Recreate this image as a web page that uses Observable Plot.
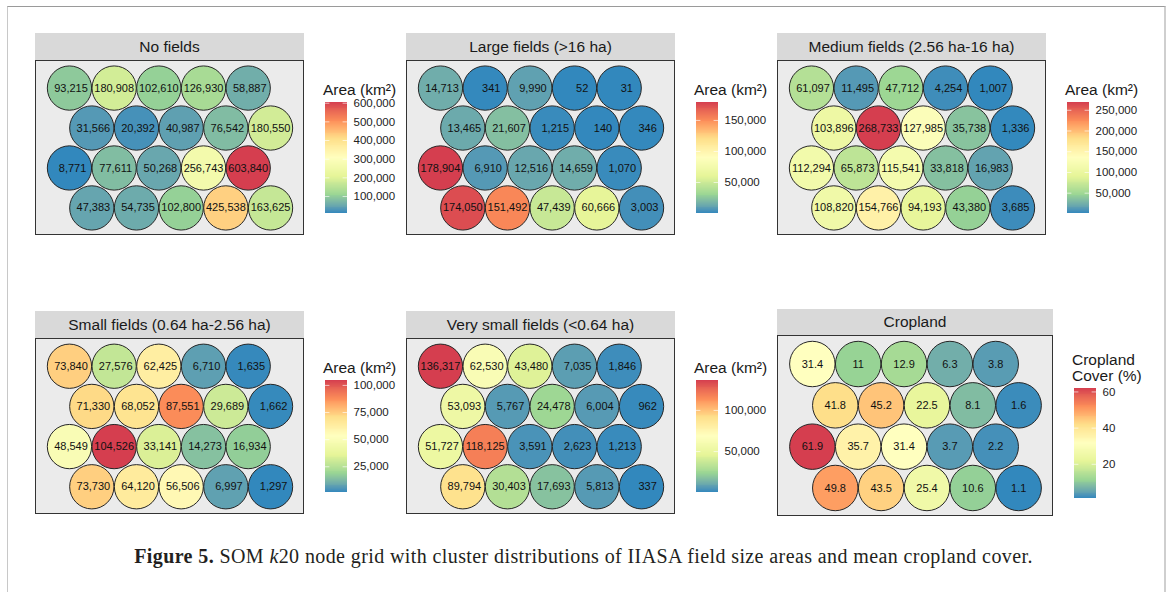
<!DOCTYPE html>
<html>
<head>
<meta charset="utf-8">
<script src="https://cdn.jsdelivr.net/npm/d3@7"></script>
<script src="https://cdn.jsdelivr.net/npm/@observablehq/plot@0.6"></script>
<style>
  body { margin: 0; background: #fff; }
  #root { position: relative; width: 1167px; height: 592px; overflow: hidden; background: #fff;
          font-family: "Liberation Sans", Arial, sans-serif; color: #1a1a1a; }
  svg text { white-space: pre; }
  .strip { position: absolute; background: #d9d9d9; display: flex; align-items: center; justify-content: center;
           font-size: 15.5px; color: #1a1a1a; }
  .body { position: absolute; }
  .border { position: absolute; left: 0; top: 0; right: 0; bottom: 0; border: 1px solid #333; box-sizing: border-box; pointer-events: none; }
  .legtitle { position: absolute; font-size: 15.5px; line-height: 16px; color: #1a1a1a; white-space: pre; }
  .leg { position: absolute; }
</style>
</head>
<body>
<div id="root">
  <div style="position:absolute;left:7px;top:6px;width:1156px;height:700px;border-top:1px solid #9a9a9a;border-left:1px solid #c8c8c8;border-right:2px solid #cfcfcf;"></div>
  <div id="caption" style="position:absolute;left:0;width:1167px;top:545px;text-align:center;font-family:'Liberation Serif','Times New Roman',serif;font-size:20px;letter-spacing:0.4px;color:#231f20;"><b>Figure 5.</b> SOM <i>k</i>20 node grid with cluster distributions of IIASA field size areas and mean cropland cover.</div>
</div>
<script>
// ---------------- data (row-major, top row first, 5 nodes per row) ----------------
const panelTitles = ["No fields", "Large fields (>16 ha)", "Medium fields (2.56 ha-16 ha)",
                     "Small fields (0.64 ha-2.56 ha)", "Very small fields (<0.64 ha)", "Cropland"];
const legendTitles = ["Area (km²)", "Area (km²)", "Area (km²)", "Area (km²)", "Area (km²)", "Cropland\nCover (%)"];

const noFields = [93215, 180908, 102610, 126930, 58887,
                  31566, 20392, 40987, 76542, 180550,
                  8771, 77611, 50268, 256743, 603840,
                  47383, 54735, 102800, 425538, 163625];
const largeFields = [14713, 341, 9990, 52, 31,
                     13465, 21607, 1215, 140, 346,
                     178904, 6910, 12516, 14659, 1070,
                     174050, 151492, 47439, 60666, 3003];
const mediumFields = [61097, 11495, 47712, 4254, 1007,
                      103896, 268733, 127985, 35738, 1336,
                      112294, 65873, 115541, 33818, 16983,
                      108820, 154766, 94193, 43380, 3685];
const smallFields = [73840, 27576, 62425, 6710, 1635,
                     71330, 68052, 87551, 29689, 1662,
                     48549, 104526, 33141, 14273, 16934,
                     73730, 64120, 56506, 6997, 1297];
const verySmallFields = [136317, 62530, 43480, 7035, 1846,
                         53093, 5767, 24478, 6004, 962,
                         51727, 118125, 3591, 2623, 1213,
                         89794, 30403, 17693, 5813, 337];
const cropland = [31.4, 11, 12.9, 6.3, 3.8,
                  41.8, 45.2, 22.5, 8.1, 1.6,
                  61.9, 35.7, 31.4, 3.7, 2.2,
                  49.8, 43.5, 25.4, 10.6, 1.1];

const ticksNoFields = [100000, 200000, 300000, 400000, 500000, 600000];
const ticksLarge = [50000, 100000, 150000];
const ticksMedium = [50000, 100000, 150000, 200000, 250000];
const ticksSmall = [25000, 50000, 75000, 100000];
const ticksVerySmall = [50000, 100000];
const ticksCropland = [20, 40, 60];

const spectral = ["#3288bd", "#99d594", "#e6f598", "#ffffbf", "#fee08b", "#fc8d59", "#d53e4f"];

const seriesList = [noFields, largeFields, mediumFields, smallFields, verySmallFields, cropland];
const tickList = [ticksNoFields, ticksLarge, ticksMedium, ticksSmall, ticksVerySmall, ticksCropland];

// ---------------- layout ----------------
const layout = [
  {left: 35,  top: 33,  w: 269, sh: 27, bh: 175, titleTop: 82,  barTop: 102, barH: 111},
  {left: 406, top: 33,  w: 269, sh: 27, bh: 175, titleTop: 82,  barTop: 102, barH: 111},
  {left: 777, top: 33,  w: 269, sh: 27, bh: 175, titleTop: 82,  barTop: 102, barH: 111},
  {left: 35,  top: 311, w: 269, sh: 27, bh: 176, titleTop: 360, barTop: 380, barH: 112},
  {left: 406, top: 311, w: 269, sh: 27, bh: 176, titleTop: 360, barTop: 380, barH: 112},
  {left: 777, top: 309, w: 276, sh: 26, bh: 181, titleTop: 352, barTop: 388, barH: 110}
];

const root = document.getElementById("root");
const fontFamily = "'Liberation Sans', Arial, sans-serif";
const areaFmt = d3.format(",");

function colorScale(values) {
  const [mn, mx] = d3.extent(values);
  return {type: "linear", domain: d3.range(7).map(i => mn + (mx - mn) * i / 6), range: spectral, interpolate: "lab", clamp: true};
}

function place(el, left, top) {
  el.style.position = "absolute";
  el.style.left = left + "px";
  el.style.top = top + "px";
  root.appendChild(el);
}

seriesList.forEach((values, p) => {
  const L = layout[p];
  const isCrop = p === 5;
  const data = values.map((v, i) => ({
    value: v,
    row: Math.floor(i / 5),
    col: i % 5,
    label: isCrop ? String(v) : areaFmt(v).padStart(7, " ")
  }));
  const xs = d => d.col + (d.row % 2 === 1 ? 0.5 : 0);

  // strip
  const strip = document.createElement("div");
  strip.className = "strip";
  strip.style.width = L.w + "px";
  strip.style.height = L.sh + "px";
  strip.textContent = panelTitles[p];
  place(strip, L.left, L.top);

  // panel body
  const unit = L.w / 6.02;
  const chart = Plot.plot({
    width: L.w,
    height: L.bh,
    margin: 0,
    x: {domain: [-0.76, 5.26], axis: null},
    y: {domain: [3.69, -0.69], axis: null},
    color: colorScale(values),
    style: {background: "#ebebeb", fontFamily, fontSize: "11px", overflow: "visible"},
    marks: [
      Plot.dot(data, {x: xs, y: "row", r: unit / 2 - 0.2, fill: "value", stroke: "#262626", strokeWidth: 1}),
      Plot.text(data, {x: xs, y: "row", text: "label", fontSize: 11, fill: "#111"})
    ]
  });
  const body = document.createElement("div");
  body.className = "body";
  body.style.width = L.w + "px";
  body.style.height = L.bh + "px";
  body.appendChild(chart);
  const border = document.createElement("div");
  border.className = "border";
  body.appendChild(border);
  place(body, L.left, L.top + L.sh);

  // legend title
  const lt = document.createElement("div");
  lt.className = "legtitle";
  lt.textContent = legendTitles[p];
  const legLeft = L.left + L.w + 21;
  place(lt, legLeft - 2, L.titleTop);

  // legend colorbar
  const [mn, mx] = d3.extent(values);
  const nSteps = 120;
  const steps = d3.range(nSteps).map(i => ({
    a: mn + (mx - mn) * i / nSteps,
    b: mn + (mx - mn) * (i + 1.6) / nSteps,
    m: mn + (mx - mn) * (i + 0.5) / nSteps
  }));
  const ticks = tickList[p];
  const leg = Plot.plot({
    width: 22 + 70,
    height: L.barH + 20,
    marginTop: 10, marginBottom: 10, marginLeft: 0, marginRight: 70,
    x: {domain: [0, 1], axis: null},
    y: {domain: [mn, mx], axis: null},
    color: colorScale(values),
    style: {fontFamily, fontSize: "11.5px", overflow: "visible", color: "#222"},
    marks: [
      Plot.rect(steps, {x1: 0, x2: 1, y1: "a", y2: d => Math.min(d.b, mx), fill: "m", shapeRendering: "crispEdges"}),
      Plot.ruleY(ticks, {x1: 0, x2: 0.2, stroke: "white", strokeWidth: 0.8, strokeOpacity: 0.8}),
      Plot.ruleY(ticks, {x1: 0.8, x2: 1, stroke: "white", strokeWidth: 0.8, strokeOpacity: 0.8}),
      Plot.axisY(ticks, {anchor: "right", tickSize: 0, tickPadding: 6, label: null,
        tickFormat: isCrop ? d3.format("d") : areaFmt, fontSize: 11.5})
    ]
  });
  place(leg, legLeft, L.barTop - 10);
});
</script>
</body>
</html>
